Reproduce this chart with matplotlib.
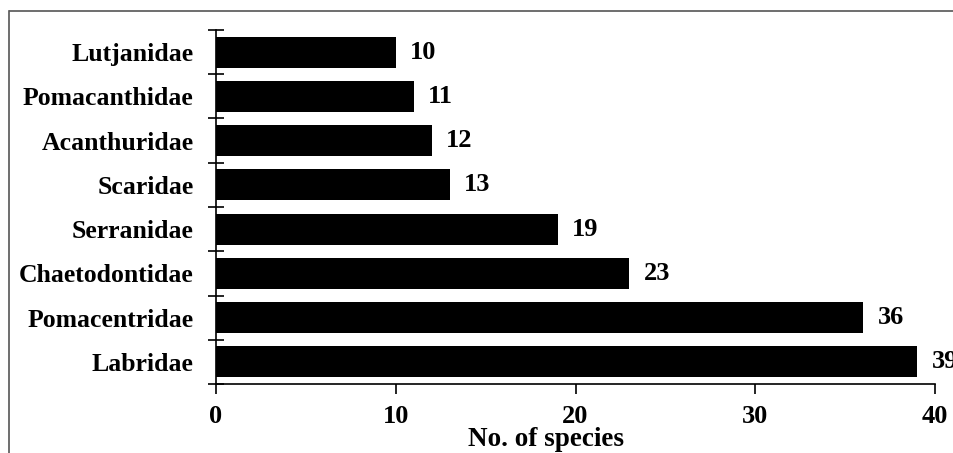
import matplotlib.pyplot as plt
import numpy as np
from matplotlib.lines import Line2D

families = ["Labridae", "Pomacentridae", "Chaetodontidae", "Serranidae",
            "Scaridae", "Acanthuridae", "Pomacanthidae", "Lutjanidae"]
species = [39, 36, 23, 19, 13, 12, 11, 10]
x_ticks = [0, 10, 20, 30, 40]

plt.rcParams["font.family"] = ["Liberation Serif", "DejaVu Serif"]
plt.rcParams["font.weight"] = "bold"

fig = plt.figure(figsize=(9.54, 4.53), dpi=100)
ax = fig.add_axes([0.2264, 0.1523, 0.7537, 0.7815])

pos = np.arange(len(families))
ax.barh(pos, species, height=0.7, color="black")
for p, v in zip(pos, species):
    ax.text(v + 0.8, p, str(v), va="center", ha="left", fontsize=19, fontweight="bold")

ax.set_xlim(0, 40)
ax.set_ylim(-0.5, len(families) - 0.5)
ax.set_xticks(x_ticks)
ax.set_xticklabels([str(t) for t in x_ticks], fontsize=19, fontweight="bold")
ax.set_xlabel("No. of species", fontsize=19.5, fontweight="bold")
ax.xaxis.set_label_coords(0.459, -0.121)

# category labels sit between boundary ticks
ax.set_yticks(np.arange(len(families) + 1) - 0.5)
ax.set_yticklabels([])
ax.set_yticks(pos, minor=True)
ax.set_yticklabels(families, minor=True, fontsize=18.5, fontweight="bold")
ax.tick_params(axis="y", which="major", direction="inout", length=12, width=1.2)
ax.tick_params(axis="y", which="minor", length=0, pad=16)
ax.tick_params(axis="x", direction="out", length=7, width=1.2, pad=8)

for side in ("top", "right"):
    ax.spines[side].set_visible(False)
for side in ("left", "bottom"):
    ax.spines[side].set_linewidth(1.2)

# outer frame of the original figure (top and left edges only remain)
fig.add_artist(Line2D([10 / 954, 1], [1 - 10.5 / 453] * 2, transform=fig.transFigure,
                      color="#555555", lw=1.2))
fig.add_artist(Line2D([9.5 / 954] * 2, [0, 1 - 10.5 / 453], transform=fig.transFigure,
                      color="#555555", lw=1.2))

fig.savefig("out.png", dpi=100)
